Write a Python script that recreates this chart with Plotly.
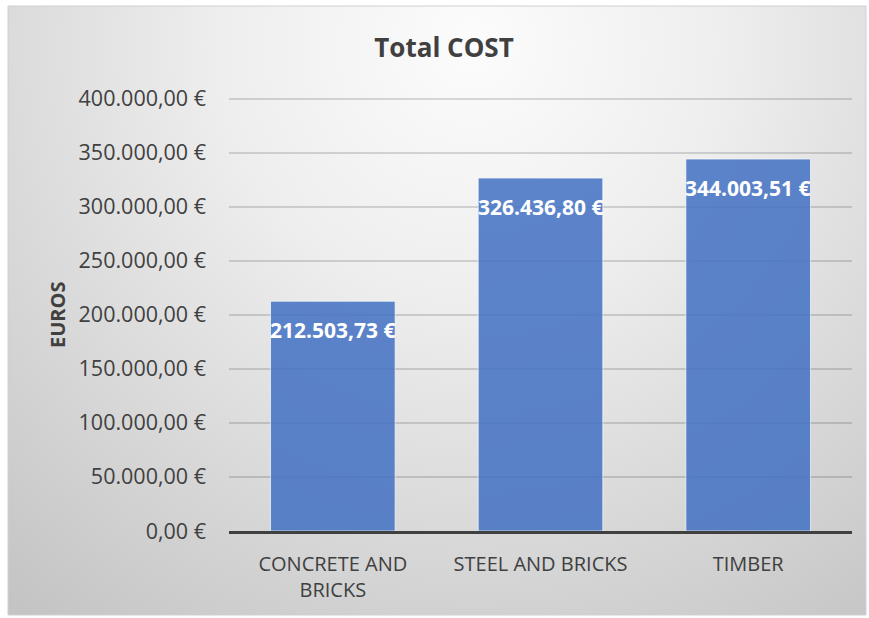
import base64
import plotly.graph_objects as go

# Data
categories = ["CONCRETE AND<br>BRICKS", "STEEL AND BRICKS", "TIMBER"]
total_cost = [212503.73, 326436.80, 344003.51]
y_ticks = [0, 50000, 100000, 150000, 200000, 250000, 300000, 350000, 400000]

W, H = 869, 618
L, R, T, B = 229, 17, 97, 87
PW, PH = W - L - R, H - T - B

TEXT = "#404040"
FONT = "Open Sans"


def euro(v):
    s = f"{v:,.2f}"
    return s.replace(",", "X").replace(".", ",").replace("X", ".") + " €"


def px_x(px):
    return (px - L) / PW


def px_y(py):
    return (H - B - py) / PH


# Chart box with a soft radial gradient fill
bx0, by0, bx1, by1 = 8, 6, 866, 615
bw, bh = bx1 - bx0, by1 - by0
svg = f"""<svg xmlns='http://www.w3.org/2000/svg' width='{bw}' height='{bh}' viewBox='0 0 {bw} {bh}' preserveAspectRatio='none'>
<defs><radialGradient id='g' gradientUnits='userSpaceOnUse' cx='465' cy='40' r='720'>
<stop offset='0' stop-color='#fcfcfc'/>
<stop offset='0.35' stop-color='#eeeeee'/>
<stop offset='1' stop-color='#c4c4c4'/>
</radialGradient></defs>
<rect x='0' y='0' width='{bw}' height='{bh}' fill='url(#g)'/>
</svg>"""
bg_src = "data:image/svg+xml;base64," + base64.b64encode(svg.encode()).decode()

fig = go.Figure()
fig.add_trace(go.Bar(
    x=categories,
    y=total_cost,
    marker=dict(color="#4472C4", opacity=0.86,
                line=dict(color="rgba(255,255,255,0.7)", width=1)),
    hoverinfo="skip",
))

# Value labels at the top inside each bar
for c, v in zip(categories, total_cost):
    fig.add_annotation(
        x=c, y=v, xref="x", yref="y",
        text=f"<b>{euro(v)}</b>", showarrow=False,
        yanchor="top", yshift=-13,
        font=dict(family=FONT, size=21, color="white"),
    )

# Axis title
fig.add_annotation(
    x=px_x(57), y=px_y(315), xref="paper", yref="paper",
    text="<b>EUROS</b>", textangle=-90, showarrow=False,
    xanchor="center", yanchor="middle",
    font=dict(family=FONT, size=20, color=TEXT),
)

fig.add_layout_image(dict(
    source=bg_src, xref="paper", yref="paper",
    x=px_x(bx0), y=px_y(by0),
    sizex=px_x(bx1) - px_x(bx0), sizey=px_y(by0) - px_y(by1),
    xanchor="left", yanchor="top", sizing="stretch", layer="below",
))
fig.add_shape(
    type="rect", xref="paper", yref="paper",
    x0=px_x(bx0), x1=px_x(bx1), y0=px_y(by1), y1=px_y(by0),
    line=dict(color="#d0d0d0", width=1), layer="below",
)

fig.update_layout(
    width=W, height=H,
    margin=dict(l=L, r=R, t=T, b=B, pad=0),
    paper_bgcolor="white",
    plot_bgcolor="rgba(0,0,0,0)",
    showlegend=False,
    bargap=0.4,
    title=dict(
        text="<b>Total COST</b>",
        x=444 / W, xanchor="center",
        y=1 - 47.5 / H, yanchor="middle",
        font=dict(family=FONT, size=26, color=TEXT),
    ),
    font=dict(family=FONT, color=TEXT),
)

fig.update_yaxes(
    range=[0, 401400],
    tickmode="array",
    tickvals=y_ticks,
    ticktext=[euro(v) for v in y_ticks],
    tickfont=dict(family=FONT, size=21.5, color=TEXT),
    showgrid=True,
    gridcolor="rgba(0,0,0,0.14)",
    gridwidth=1.5,
    zeroline=False,
    showline=False,
    ticks="",
    ticklabelstandoff=22,
)
fig.update_xaxes(
    tickfont=dict(family=FONT, size=20, color=TEXT),
    showline=True,
    linecolor="#404040",
    linewidth=3,
    ticks="",
    showgrid=False,
    ticklabelstandoff=13,
)

fig.write_html("out.html")
